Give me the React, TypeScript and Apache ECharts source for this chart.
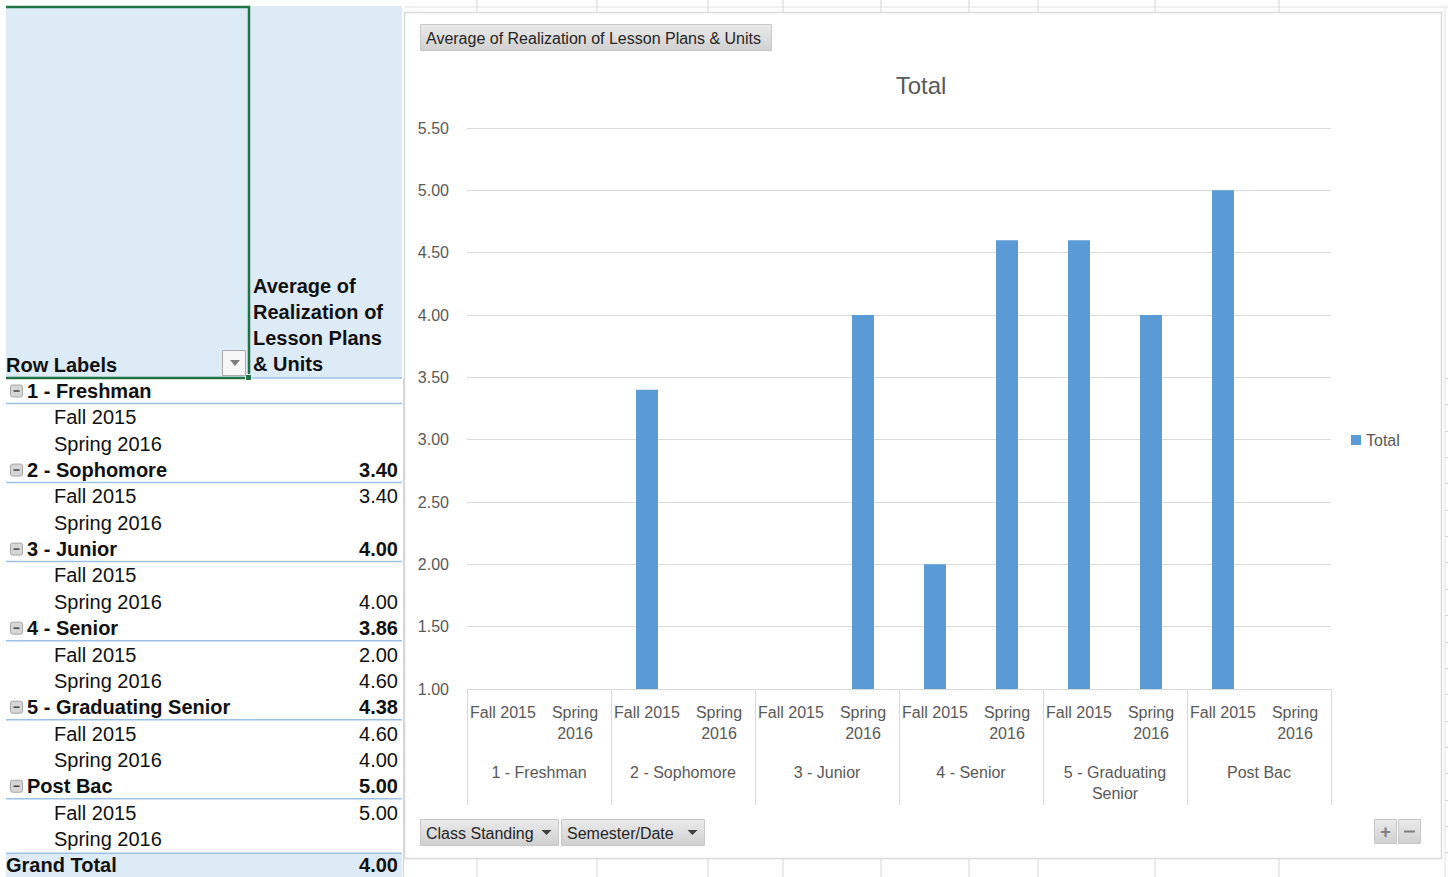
import React, { useEffect, useRef } from "react";
import * as echarts from "echarts";

// ---------- data ----------
const classStandings = ["1 - Freshman", "2 - Sophomore", "3 - Junior", "4 - Senior", "5 - Graduating Senior", "Post Bac"];
const classAxisLabels = ["1 - Freshman", "2 - Sophomore", "3 - Junior", "4 - Senior", "5 - Graduating\nSenior", "Post Bac"];
const semesters = ["Fall 2015", "Spring 2016"];
const semesterAxisLabels = ["Fall 2015", "Spring\n2016"];
const fallValues: (number | null)[] = [null, 3.4, null, 2.0, 4.6, 5.0];
const springValues: (number | null)[] = [null, null, 4.0, 4.6, 4.0, null];
const groupAverages: (number | null)[] = [null, 3.4, 4.0, 3.86, 4.38, 5.0];
const grandTotal = 4.0;
const yMin = 1;
const yMax = 5.5;
const yStep = 0.5;
const seriesName = "Total";
const fieldTitle = "Average of Realization of Lesson Plans & Units";
const headerValueTitle = "Average of\nRealization of\nLesson Plans\n& Units";
const filterButtons = ["Class Standing", "Semester/Date"];

// ---------- styling ----------
const TABLE_FONT = "'Liberation Sans', Arial, sans-serif";
const CHART_FONT = "'Liberation Sans', Arial, sans-serif";
const GREY = "#595959";
const GRID_LINE = "#D9D9D9";
const BLUE_LINE = "#9BC2E6";
const HEADER_BG = "#DDEBF7";

export default function App() {
  const ref = useRef<HTMLDivElement>(null);

  useEffect(() => {
    if (!ref.current) return;
    const chart = echarts.init(ref.current, undefined, { renderer: "svg" });

    const categories: string[] = [];
    const barData: (number | string)[] = [];
    classStandings.forEach((_, i) => {
      semesterAxisLabels.forEach((s, j) => {
        categories.push(s);
        const v = j === 0 ? fallValues[i] : springValues[i];
        barData.push(v == null ? "-" : v);
      });
    });

    const fmt = (v: number | null) => (v == null ? "" : v.toFixed(2));

    // ---------- pivot table graphics ----------
    const g: any[] = [];
    const L = 6, R = 402;
    const ROW0 = 391, RH = 26.35;

    // Excel background grid (outside chart)
    g.push({ type: "line", shape: { x1: 404, y1: 7, x2: 1448, y2: 7 }, style: { stroke: "#E1E1E1", lineWidth: 1 }, silent: true });
    [477, 597, 708, 783, 881, 969, 1038, 1155, 1279].forEach((x) => {
      g.push({ type: "line", shape: { x1: x, y1: 0, x2: x, y2: 12 }, style: { stroke: "#D4D4D4", lineWidth: 1 }, silent: true });
      g.push({ type: "line", shape: { x1: x, y1: 858, x2: x, y2: 877 }, style: { stroke: "#D4D4D4", lineWidth: 1 }, silent: true });
    });
    g.push({ type: "line", shape: { x1: 1445, y1: 7, x2: 1445, y2: 877 }, style: { stroke: "#E1E1E1", lineWidth: 1 }, silent: true });
    for (let k = 0; k < 19; k++) {
      const y = Math.round(378 + k * RH) + 0.5;
      g.push({ type: "line", shape: { x1: 1445, y1: y, x2: 1448, y2: y }, style: { stroke: "#D4D4D4", lineWidth: 1 }, silent: true });
    }
    g.push({ type: "line", shape: { x1: 403.5, y1: 378, x2: 403.5, y2: 877 }, style: { stroke: "#D4D4D4", lineWidth: 1 }, silent: true });

    // chart border
    g.push({ type: "rect", shape: { x: 404.5, y: 12.5, width: 1037, height: 846 }, style: { fill: "#fff", stroke: "#D9D9D9", lineWidth: 1.5 }, z: -10, silent: true });

    // header area
    g.push({ type: "rect", shape: { x: L, y: 6, width: R - L, height: 372 }, style: { fill: HEADER_BG }, silent: true });
    g.push({ type: "line", shape: { x1: 249, y1: 378, x2: R, y2: 378 }, style: { stroke: BLUE_LINE, lineWidth: 1.5 }, silent: true });
    g.push({ type: "polyline", shape: { points: [[L, 7], [249, 7], [249, 378], [L, 378]] }, style: { stroke: "#217346", lineWidth: 2.5, fill: null }, silent: true });
    g.push({ type: "rect", shape: { x: 245.5, y: 374.5, width: 6, height: 6 }, style: { fill: "#217346", stroke: "#fff", lineWidth: 1 }, silent: true });
    g.push({ type: "text", x: L, y: 365, style: { text: "Row Labels", font: `bold 20px ${TABLE_FONT}`, fill: "#111", verticalAlign: "middle", align: "left" }, silent: true });
    g.push({ type: "rect", shape: { x: 222.5, y: 350.5, width: 23, height: 25 }, style: { fill: "#F7F7F7", stroke: "#ABABAB", lineWidth: 1 }, silent: true });
    g.push({ type: "polygon", shape: { points: [[230, 360], [240, 360], [235, 366]] }, style: { fill: "#7F7F7F" }, silent: true });
    g.push({ type: "text", x: 253, y: 273, style: { text: headerValueTitle, font: `bold 20px ${TABLE_FONT}`, lineHeight: 26, fill: "#111", verticalAlign: "top", align: "left" }, silent: true });

    // rows
    type Row = { label: string; value: string; kind: "group" | "child" | "total" };
    const rows: Row[] = [];
    classStandings.forEach((c, i) => {
      rows.push({ label: c, value: fmt(groupAverages[i]), kind: "group" });
      semesters.forEach((s, j) => rows.push({ label: s, value: fmt(j === 0 ? fallValues[i] : springValues[i]), kind: "child" }));
    });
    rows.push({ label: "Grand Total", value: fmt(grandTotal), kind: "total" });

    rows.forEach((r, idx) => {
      const cy = ROW0 + idx * RH;
      if (r.kind === "total") {
        g.push({ type: "rect", shape: { x: L, y: cy - 12, width: R - L, height: 877 - (cy - 12) }, style: { fill: HEADER_BG }, silent: true });
        g.push({ type: "line", shape: { x1: L, y1: cy - 12, x2: R, y2: cy - 12 }, style: { stroke: BLUE_LINE, lineWidth: 1.5 }, silent: true });
      }
      if (r.kind === "group") {
        g.push({ type: "line", shape: { x1: L, y1: cy + 12.5, x2: R, y2: cy + 12.5 }, style: { stroke: BLUE_LINE, lineWidth: 1.5 }, silent: true });
        g.push({ type: "rect", shape: { x: 10.5, y: cy - 6, width: 12, height: 12, r: 2 }, style: { fill: "#D6D6D6", stroke: "#A6A6A6", lineWidth: 1 }, silent: true });
        g.push({ type: "line", shape: { x1: 13.5, y1: cy, x2: 19.5, y2: cy }, style: { stroke: "#404040", lineWidth: 1.5 }, silent: true });
      }
      const bold = r.kind !== "child";
      const lx = r.kind === "group" ? 27 : r.kind === "child" ? 54 : L;
      g.push({ type: "text", x: lx, y: cy, style: { text: r.label, font: `${bold ? "bold " : ""}20px ${TABLE_FONT}`, fill: "#111", verticalAlign: "middle", align: "left" }, silent: true });
      if (r.value) {
        g.push({ type: "text", x: 398, y: cy, style: { text: r.value, font: `${bold ? "bold " : ""}20px ${TABLE_FONT}`, fill: "#111", verticalAlign: "middle", align: "right" }, silent: true });
      }
    });

    // chart buttons
    const btnFill = new echarts.graphic.LinearGradient(0, 0, 0, 1, [
      { offset: 0, color: "#EBEBEB" },
      { offset: 1, color: "#D0D0D0" },
    ]);
    g.push({ type: "rect", shape: { x: 420.5, y: 24.5, width: 351, height: 26 }, style: { fill: btnFill, stroke: "#C8C8C8", lineWidth: 1 }, silent: true });
    g.push({ type: "text", x: 426, y: 38, style: { text: fieldTitle, font: `16px ${CHART_FONT}`, fill: "#262626", verticalAlign: "middle", align: "left" }, silent: true });

    const btns = [
      { x: 420.5, w: 138 },
      { x: 561.5, w: 143 },
    ];
    filterButtons.forEach((t, i) => {
      const b = btns[i];
      g.push({ type: "rect", shape: { x: b.x, y: 819.5, width: b.w, height: 26 }, style: { fill: btnFill, stroke: "#C8C8C8", lineWidth: 1 }, silent: true });
      g.push({ type: "text", x: b.x + 5.5, y: 833, style: { text: t, font: `16px ${CHART_FONT}`, fill: "#262626", verticalAlign: "middle", align: "left" }, silent: true });
      const tx = b.x + b.w - 17;
      g.push({ type: "polygon", shape: { points: [[tx, 830], [tx + 10, 830], [tx + 5, 835]] }, style: { fill: "#404040" }, silent: true });
    });
    g.push({ type: "rect", shape: { x: 1374.5, y: 819.5, width: 22, height: 24 }, style: { fill: btnFill, stroke: "#C8C8C8", lineWidth: 1 }, silent: true });
    g.push({ type: "rect", shape: { x: 1398.5, y: 819.5, width: 22, height: 24 }, style: { fill: btnFill, stroke: "#C8C8C8", lineWidth: 1 }, silent: true });
    g.push({ type: "text", x: 1385.5, y: 831.5, style: { text: "+", font: `bold 18px ${CHART_FONT}`, fill: "#7F7F7F", verticalAlign: "middle", align: "center" }, silent: true });
    g.push({ type: "line", shape: { x1: 1404, y1: 831.5, x2: 1415, y2: 831.5 }, style: { stroke: "#7F7F7F", lineWidth: 2 }, silent: true });

    const option: any = {
      animation: false,
      backgroundColor: "#fff",
      title: {
        text: "Total",
        left: 916,
        top: 68,
        textAlign: "center",
        textStyle: { fontFamily: CHART_FONT, fontSize: 24, fontWeight: "normal", color: GREY },
      },
      legend: {
        data: [seriesName],
        left: 1346,
        top: 427,
        icon: "rect",
        itemWidth: 10,
        itemHeight: 10,
        itemGap: 10,
        textStyle: { fontFamily: CHART_FONT, fontSize: 16, color: GREY },
      },
      grid: { left: 467, top: 128, width: 864, height: 561, containLabel: false },
      xAxis: [
        {
          type: "category",
          data: categories,
          position: "bottom",
          axisLine: { show: true, lineStyle: { color: GRID_LINE } },
          axisTick: { show: false },
          axisLabel: {
            interval: 0,
            margin: 13,
            fontFamily: CHART_FONT,
            fontSize: 16,
            lineHeight: 21,
            color: GREY,
            align: "center",
          },
        },
        {
          type: "category",
          data: classAxisLabels,
          position: "bottom",
          axisLine: { show: false },
          axisTick: { show: true, length: 116, lineStyle: { color: GRID_LINE } },
          axisLabel: {
            interval: 0,
            margin: 73,
            fontFamily: CHART_FONT,
            fontSize: 16,
            lineHeight: 21,
            color: GREY,
          },
        },
      ],
      yAxis: {
        type: "value",
        min: yMin,
        max: yMax,
        interval: yStep,
        axisLine: { show: false },
        axisTick: { show: false },
        splitLine: { lineStyle: { color: GRID_LINE } },
        axisLabel: {
          margin: 18,
          fontFamily: CHART_FONT,
          fontSize: 16,
          color: GREY,
          formatter: (v: number) => v.toFixed(2),
        },
      },
      series: [
        {
          name: seriesName,
          type: "bar",
          data: barData,
          barWidth: 22,
          itemStyle: { color: "#5B9BD5" },
          xAxisIndex: 0,
          yAxisIndex: 0,
        },
      ],
      graphic: { elements: g },
    };

    chart.setOption(option);
    return () => chart.dispose();
  }, []);

  return (
    <div
      ref={ref}
      style={{ position: "absolute", left: 0, top: 0, width: 1448, height: 877, background: "#fff" }}
    />
  );
}
